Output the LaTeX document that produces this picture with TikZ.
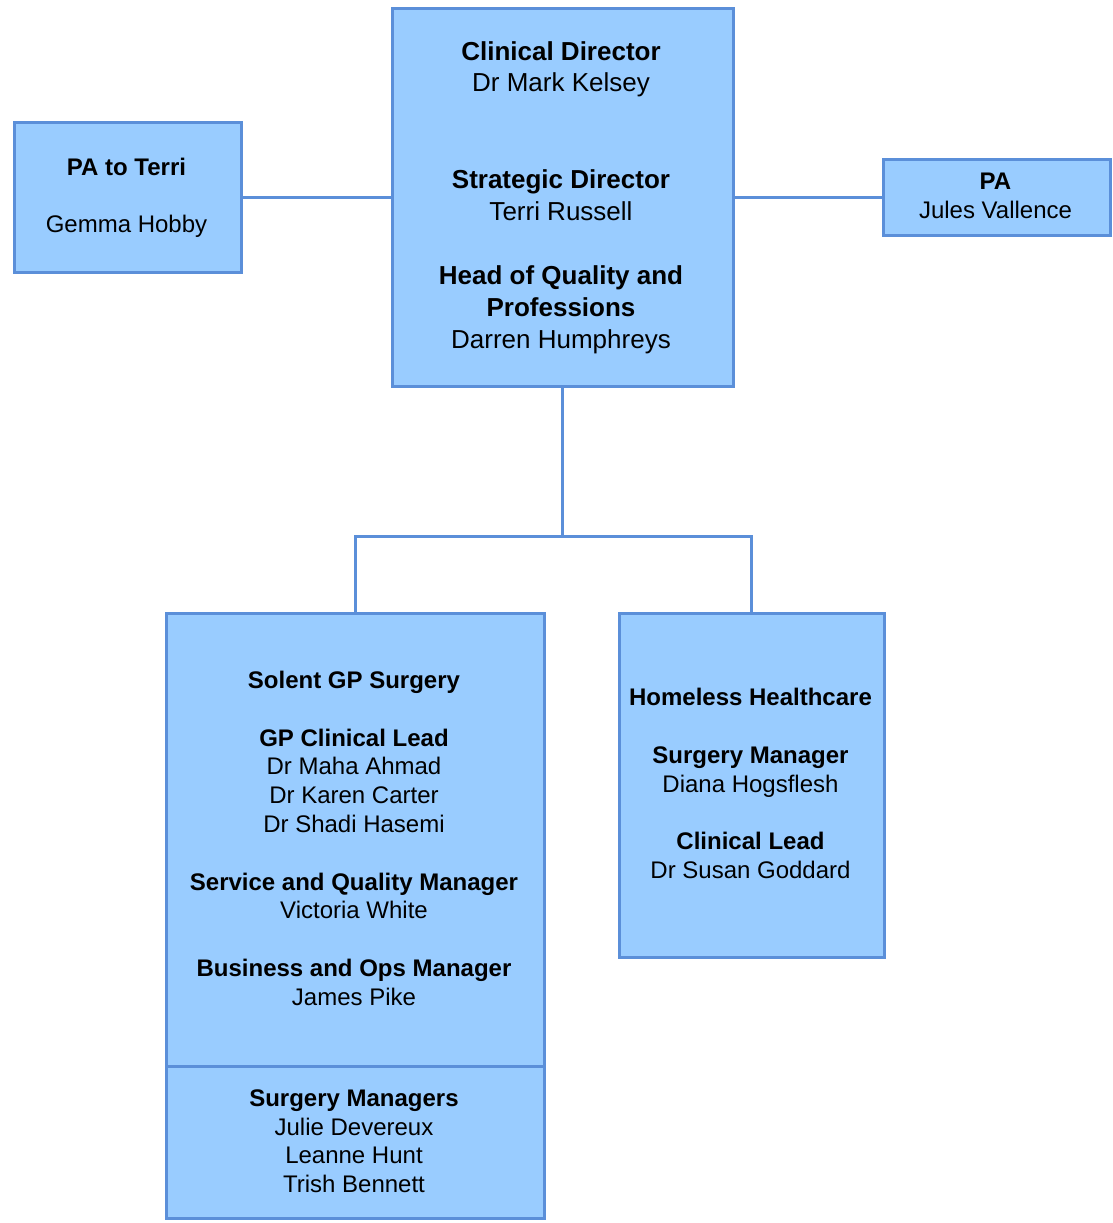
\documentclass[tikz,border=0pt]{standalone}
\usepackage{fontspec}
\setmainfont{Liberation Sans}
\definecolor{boxfill}{HTML}{99CCFF}
\definecolor{boxline}{HTML}{5B8FD9}
\begin{document}
\begin{tikzpicture}[x=1pt,y=-1pt,
  orgbox/.style={draw=boxline,fill=boxfill,line width=2.6pt,inner sep=0pt,anchor=north west},
  conn/.style={draw=boxline,line width=3pt},
  big/.style={font=\fontsize{26}{31}\selectfont,anchor=base,inner sep=0pt},
  txt/.style={font=\fontsize{24}{29}\selectfont,anchor=base,inner sep=0pt}]
\useasboundingbox (0,0) rectangle (1112,1223);
% boxes
\node[orgbox,minimum width=341pt,minimum height=378pt] (top) at (391,7) {};
\node[orgbox,minimum width=227pt,minimum height=150pt] (pat) at (13,121) {};
\node[orgbox,minimum width=227pt,minimum height=76pt] (pa) at (882,158) {};
\node[orgbox,minimum width=378pt,minimum height=453pt] (sol) at (165,612) {};
\node[orgbox,minimum width=378pt,minimum height=152pt] (solb) at (165,1065) {};
\node[orgbox,minimum width=265pt,minimum height=344pt] (home) at (618,612) {};
% connectors
\coordinate (bus) at (top.south |- 0,536);
\draw[conn] (pat.east) -- (top.west);
\draw[conn] (top.east) -- (pa.west);
\draw[conn] (top.south) -- (bus);
\draw[conn] (sol.north) |- (bus) -| (home.north);
% top box text
\node[big] (t1) at (561,60) {\bfseries Clinical Director};
\node[big] (t2) at (561,92) {Dr Mark Kelsey};
\node[big] (t3) at (561,188) {\bfseries Strategic Director};
\node[big] (t4) at (561,220) {Terri Russell};
\node[big] (t5) at (561,284) {\bfseries Head of Quality and};
\node[big] (t6) at (561,316) {\bfseries Professions};
\node[big] (t7) at (561,348) {Darren Humphreys};
% PA to Terri
\node[txt] (p1) at (126.5,175.5) {\bfseries PA to Terri};
\node[txt] (p2) at (126.5,232.5) {Gemma Hobby};
% PA
\node[txt] (q1) at (995.5,189.5) {\bfseries PA};
\node[txt] (q2) at (995.5,218.5) {Jules Vallence};
% Solent
\node[txt] (s1) at (354,688.5) {\bfseries Solent GP Surgery};
\node[txt] (s2) at (354,746.5) {\bfseries GP Clinical Lead};
\node[txt] (s3) at (354,774.5) {Dr Maha Ahmad};
\node[txt] (s4) at (354,803.5) {Dr Karen Carter};
\node[txt] (s5) at (354,832.5) {Dr Shadi Hasemi};
\node[txt] (s6) at (354,890.5) {\bfseries Service and Quality Manager};
\node[txt] (s7) at (354,918.5) {Victoria White};
\node[txt] (s8) at (354,976.5) {\bfseries Business and Ops Manager};
\node[txt] (s9) at (354,1005.5) {James Pike};
% Surgery managers
\node[txt] (m1) at (354,1106.5) {\bfseries Surgery Managers};
\node[txt] (m2) at (354,1135.5) {Julie Devereux};
\node[txt] (m3) at (354,1163.5) {Leanne Hunt};
\node[txt] (m4) at (354,1192.5) {Trish Bennett};
% Homeless
\node[txt] (h1) at (750.5,705.5) {\bfseries Homeless Healthcare};
\node[txt] (h2) at (750.5,763.5) {\bfseries Surgery Manager};
\node[txt] (h3) at (750.5,792.5) {Diana Hogsflesh};
\node[txt] (h4) at (750.5,849.5) {\bfseries Clinical Lead};
\node[txt] (h5) at (750.5,878.5) {Dr Susan Goddard};
\end{tikzpicture}
\end{document}
